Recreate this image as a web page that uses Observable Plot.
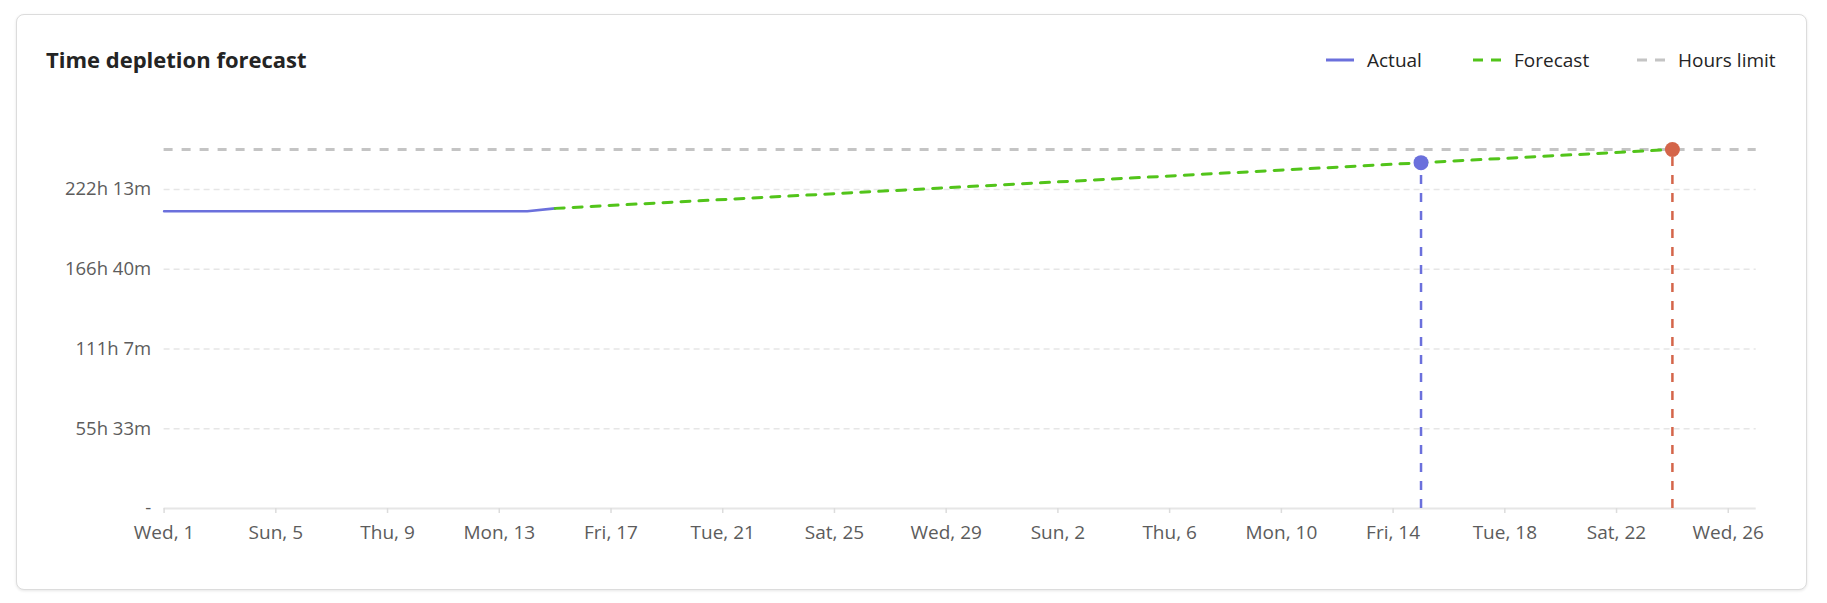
<!DOCTYPE html>
<html>
<head>
<meta charset="utf-8">
<script src="https://cdn.jsdelivr.net/npm/d3@7"></script>
<script src="https://cdn.jsdelivr.net/npm/@observablehq/plot@0.6"></script>
<style>
  html, body { margin: 0; padding: 0; background: #ffffff; }
  body { width: 1827px; height: 603px; position: relative; overflow: hidden; font-family: "Open Sans", "Noto Sans", sans-serif; }
  .card { position: absolute; left: 16px; top: 14px; width: 1791px; height: 576px; box-sizing: border-box;
          border: 1px solid #dcdcdc; border-radius: 8px; box-shadow: 0 1px 3px rgba(0,0,0,0.10); background: #fff; }
  .title { position: absolute; left: 46px; top: 44px; font-size: 22px; font-weight: 700; color: #242424; line-height: 30px; white-space: nowrap; }
  .legend-item { position: absolute; top: 47px; height: 26px; display: flex; align-items: center; font-size: 19px; color: #242424; white-space: nowrap; }
  .legend-item svg { margin-right: 13px; }
  #chart { position: absolute; left: 0; top: 100px; }
</style>
</head>
<body>
<div class="card"></div>
<div class="title">Time depletion forecast</div>
<div id="legend"></div>
<div id="chart"></div>
<script>
// ---- data ----
const actualDates = ["2025-01-01","2025-01-02","2025-01-03","2025-01-04","2025-01-05","2025-01-06","2025-01-07",
                     "2025-01-08","2025-01-09","2025-01-10","2025-01-11","2025-01-12","2025-01-13","2025-01-14","2025-01-15"];
const actualSeconds = [745200,745200,745200,745200,745200,745200,745200,
                       745200,745200,745200,745200,745200,745200,745200,752400];
const forecastDates = ["2025-01-15","2025-02-24"];
const forecastSeconds = [752400, 900000];
const hoursLimitSeconds = 900000;
const markerDates = ["2025-02-15","2025-02-24"];
const markerSeconds = [867000, 900000];
const yTicks = [0, 200000, 400000, 600000, 800000];
const xTicks = ["2025-01-01","2025-01-05","2025-01-09","2025-01-13","2025-01-17","2025-01-21","2025-01-25","2025-01-29",
                "2025-02-02","2025-02-06","2025-02-10","2025-02-14","2025-02-18","2025-02-22","2025-02-26"];
const xDomain = ["2025-01-01","2025-02-27"];
const legendLabels = ["Actual","Forecast","Hours limit"];

// ---- styles ----
const C_ACTUAL = "#6b70dc", C_FORECAST = "#52c41a", C_LIMIT = "#c4c4c4", C_END = "#d4654a";
const markerColors = [C_ACTUAL, C_END];

const parse = d3.utcParse("%Y-%m-%d");
const actual = actualDates.map((d, i) => ({date: parse(d), v: actualSeconds[i]}));
const forecast = forecastDates.map((d, i) => ({date: parse(d), v: forecastSeconds[i]}));
const markers = markerDates.map((d, i) => ({date: parse(d), v: markerSeconds[i], i}));

function fmtDuration(s) {
  if (s === 0) return "-";
  const totalMin = Math.round(s / 60);
  return `${Math.floor(totalMin / 60)}h ${totalMin % 60}m`;
}

const chart = Plot.plot({
  width: 1827,
  height: 470,
  marginTop: 49,
  marginBottom: 62,
  marginLeft: 163.6,
  marginRight: 71.3,
  style: {fontFamily: "'Open Sans', 'Noto Sans', sans-serif", background: "transparent", overflow: "visible"},
  x: {type: "utc", domain: xDomain.map(parse)},
  y: {domain: [0, hoursLimitSeconds]},
  marks: [
    Plot.gridY(yTicks.filter(v => v > 0), {stroke: "#e6e6e6", strokeOpacity: 1, strokeWidth: 1.5, strokeDasharray: "6,4"}),
    Plot.ruleY([0], {stroke: "#e6e6e6", strokeWidth: 2}),
    Plot.axisX({ticks: xTicks.map(parse), tickFormat: d3.utcFormat("%a, %-d"), tickSize: 5, tickPadding: 12,
                stroke: "#dcdcdc", strokeWidth: 1.5, fill: "#5c5c5c", fontSize: 19, label: null}),
    Plot.axisY({ticks: yTicks, tickFormat: fmtDuration, tickSize: 0, tickPadding: 13,
                fill: "#5c5c5c", fontSize: 18.5, label: null}),
    Plot.ruleY([hoursLimitSeconds], {stroke: C_LIMIT, strokeWidth: 3, strokeDasharray: "9,9"}),
    Plot.line(actual, {x: "date", y: "v", stroke: C_ACTUAL, strokeWidth: 2.6}),
    Plot.line(forecast, {x: "date", y: "v", stroke: C_FORECAST, strokeWidth: 3, strokeDasharray: "9,9"}),
    Plot.ruleX(markers, {x: "date", y1: 0, y2: "v", stroke: d => markerColors[d.i], strokeWidth: 2.5, strokeDasharray: "9,9"}),
    Plot.dot(markers, {x: "date", y: "v", r: 7.5, fill: d => markerColors[d.i], stroke: "none"})
  ]
});
document.getElementById("chart").appendChild(chart);

// ---- legend ----
const legend = document.getElementById("legend");
const swatches = [
  {color: C_ACTUAL, dash: null, left: 1326},
  {color: C_FORECAST, dash: "10,8", left: 1473},
  {color: C_LIMIT, dash: "10,8", left: 1637}
];
legendLabels.forEach((label, i) => {
  const s = swatches[i];
  const item = document.createElement("div");
  item.className = "legend-item";
  item.style.left = s.left + "px";
  item.innerHTML = `<svg width="28" height="6"><line x1="0" x2="28" y1="3" y2="3" stroke="${s.color}" stroke-width="3" ${s.dash ? `stroke-dasharray="${s.dash}"` : ""}/></svg><span>${label}</span>`;
  legend.appendChild(item);
});
</script>
</body>
</html>
